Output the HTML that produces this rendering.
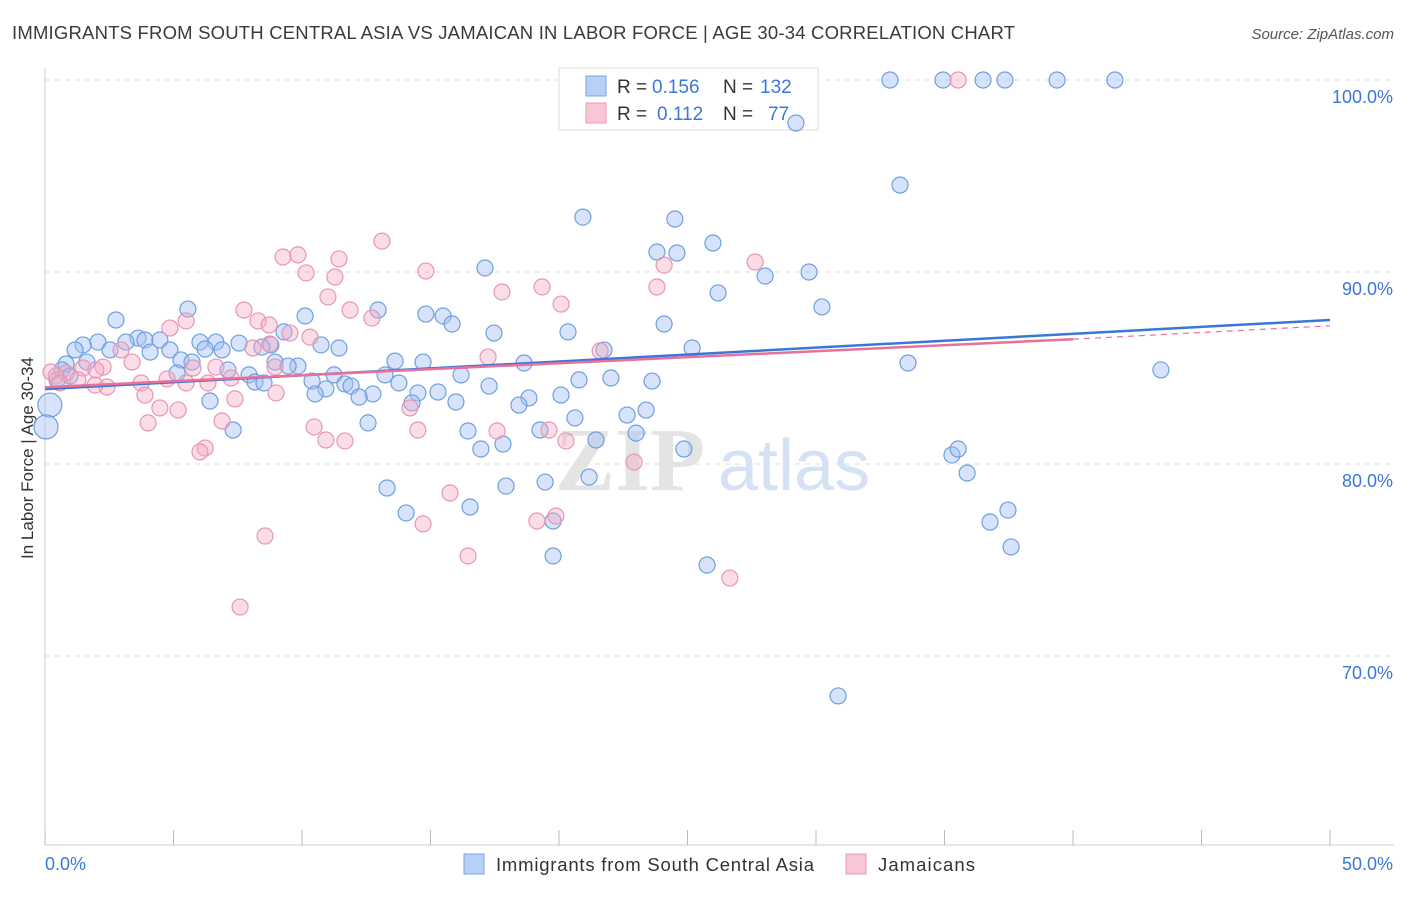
<!DOCTYPE html>
<html><head><meta charset="utf-8"><style>
body{margin:0;background:#fff;font-family:"Liberation Sans",sans-serif}
</style></head><body>
<svg id="chart" width="1406" height="892" xmlns="http://www.w3.org/2000/svg" font-family="Liberation Sans, sans-serif">
<text x="12" y="39" font-size="18.5" fill="#3a3a3a" textLength="1003">IMMIGRANTS FROM SOUTH CENTRAL ASIA VS JAMAICAN IN LABOR FORCE | AGE 30-34 CORRELATION CHART</text>
<text x="1394" y="39" font-size="15" fill="#555" text-anchor="end" font-style="italic">Source: ZipAtlas.com</text>
<text x="33" y="458" font-size="17" fill="#333" text-anchor="middle" transform="rotate(-90 33 458)">In Labor Force | Age 30-34</text>
<text x="555" y="490" font-size="90" fill="#e4e4e4" font-weight="bold" font-family="Liberation Serif, serif">ZIP</text>
<text x="718" y="490" font-size="72" fill="#d5e2f5">atlas</text>
<g id="grid"></g><g id="axes"></g>
<g>
<rect x="559" y="68" width="259" height="62" fill="#fff" stroke="#ddd"/>
<rect x="586" y="76" width="20" height="20" fill="#b7d0f5" stroke="#7aa5e5"/>
<rect x="586" y="103" width="20" height="20" fill="#f8c6d6" stroke="#e89ab5"/>
<text y="93" font-size="19" fill="#333"><tspan x="617">R =</tspan><tspan x="652" fill="#3a78d8">0.156</tspan><tspan x="723">N =</tspan><tspan x="760" fill="#3a78d8">132</tspan></text>
<text y="120" font-size="19" fill="#333"><tspan x="617">R =</tspan><tspan x="657" fill="#3a78d8">0.112</tspan><tspan x="723">N =</tspan><tspan x="768" fill="#3a78d8">77</tspan></text>
</g>
<g id="pts"></g><g id="lines"></g>
<g>
<rect x="464" y="854" width="20" height="20" fill="#b7d0f5" stroke="#7aa5e5"/>
<text x="496" y="871" font-size="18.5" fill="#333" textLength="318">Immigrants from South Central Asia</text>
<rect x="846" y="854" width="20" height="20" fill="#f8c6d6" stroke="#e89ab5"/>
<text x="878" y="871" font-size="18.5" fill="#333" textLength="97">Jamaicans</text>
</g>
</svg>
<script>
const yTicks=[100,90,80,70];
const xTickLabels=["0.0%","50.0%"];
const blueX=[890,943,983,1005,1057,1115,796,900,583,675,713,657,677,485,765,809,718,822,188,378,116,305,426,443,452,664,494,568,284,138,98,83,126,145,160,216,239,271,321,339,200,75,110,150,170,205,222,262,604,692,908,1161,66,87,181,192,275,298,288,395,423,524,228,177,249,334,385,461,579,611,652,255,264,312,345,351,326,315,373,359,399,418,438,489,529,561,210,412,456,519,627,646,575,368,233,636,468,540,596,503,481,684,952,958,967,589,545,387,506,406,470,553,990,1008,1011,553,707,838,50,46,57,62,70].map(p=>+((p-45)/25.7).toFixed(2));
const blueY=[80,80,80,80,80,80,123,185,217,219,243,252,253,268,276,272,293,307,309,310,320,316,314,316,324,324,333,332,332,338,342,345,342,340,340,342,343,345,345,348,342,350,350,352,350,349,350,347,350,348,363,370,364,362,360,362,362,366,366,361,362,363,370,373,375,375,375,375,380,378,381,382,383,381,384,386,389,394,394,397,383,393,392,386,398,395,401,403,402,405,415,410,418,423,430,433,431,430,440,444,449,449,455,449,473,477,482,488,486,513,507,521,522,510,547,556,565,696,405,427,380,370,376].map(p=>+(100-(p-80)/19.2).toFixed(2));
const pinkX=[958,240,265,283,298,339,382,426,306,335,502,542,561,664,657,755,328,350,244,258,269,186,170,290,372,310,270,253,121,600,488,132,216,83,103,66,96,78,56,51,193,167,141,186,208,231,276,235,145,107,160,178,410,148,222,418,314,326,345,497,549,566,205,200,634,450,537,556,423,468,730,275,60,95].map(p=>+((p-45)/25.7).toFixed(2));
const pinkY=[80,607,536,257,255,259,241,271,273,277,292,287,304,265,287,262,297,310,310,321,325,321,328,333,318,337,344,348,350,351,357,362,367,368,367,373,370,380,376,372,368,379,383,383,383,378,393,399,395,387,408,410,408,423,421,430,427,440,441,431,430,441,448,452,462,493,521,516,524,556,578,367,383,385].map(p=>+(100-(p-80)/19.2).toFixed(2));
const blueTrend=[83.9,87.5];
const pinkTrend=[84.0,86.5,87.2];
const X=v=>45+v*25.7, Y=v=>80+(100-v)*19.2;
const NS="http://www.w3.org/2000/svg";
function mk(tag,attrs,parent){const e=document.createElementNS(NS,tag);for(const k in attrs)e.setAttribute(k,attrs[k]);parent.appendChild(e);return e;}
const grid=document.getElementById('grid'),axes=document.getElementById('axes');
yTicks.forEach(t=>{const l=mk('line',{x1:45,x2:1394,y1:Y(t),y2:Y(t),stroke:'#ddd','stroke-dasharray':'5,5'},grid);


const tx=mk('text',{x:1393,y:Y(t)+23,'font-size':18,fill:'#3a78d8','text-anchor':'end'},axes);tx.textContent=t.toFixed(1)+'%';

});
mk('line',{x1:45,x2:45,y1:68,y2:845,stroke:'#ccc'},axes);
mk('line',{x1:45,x2:1394,y1:845,y2:845,stroke:'#ccc'},axes);
for(let i=0;i<=10;i++){mk('line',{x1:X(i*5),x2:X(i*5),y1:830,y2:845,stroke:'#bbb'},axes);}
const t0=mk('text',{x:45,y:870,'font-size':18,fill:'#3a78d8'},axes);t0.textContent=xTickLabels[0];


const t1=mk('text',{x:1393,y:870,'font-size':18,fill:'#3a78d8','text-anchor':'end'},axes);t1.textContent=xTickLabels[1];


const pts=document.getElementById('pts');
blueX.forEach((x,i)=>{const c=mk('circle',{cx:X(x),cy:Y(blueY[i]),r:i>=118&&i<=119?12:8,fill:'rgba(164,194,244,0.45)',stroke:'#6f9fe0','stroke-width':1.2},pts);

});
pinkX.forEach((x,i)=>{const c=mk('circle',{cx:X(x),cy:Y(pinkY[i]),r:8,fill:'rgba(244,170,196,0.4)',stroke:'#e895b2','stroke-width':1.2},pts);

});
const lines=document.getElementById('lines');
const bl=mk('line',{x1:X(0),y1:Y(blueTrend[0]),x2:X(50),y2:Y(blueTrend[1]),stroke:'#3a78d8','stroke-width':2.5},lines);


const pl=mk('line',{x1:X(0),y1:Y(pinkTrend[0]),x2:X(40),y2:Y(pinkTrend[1]),stroke:'#e8709a','stroke-width':2.5},lines);


const pd=mk('line',{x1:X(40),y1:Y(pinkTrend[1]),x2:X(50),y2:Y(pinkTrend[2]),stroke:'#e8709a','stroke-width':1.2,'stroke-dasharray':'6,5'},lines);


</script>
</body></html>
